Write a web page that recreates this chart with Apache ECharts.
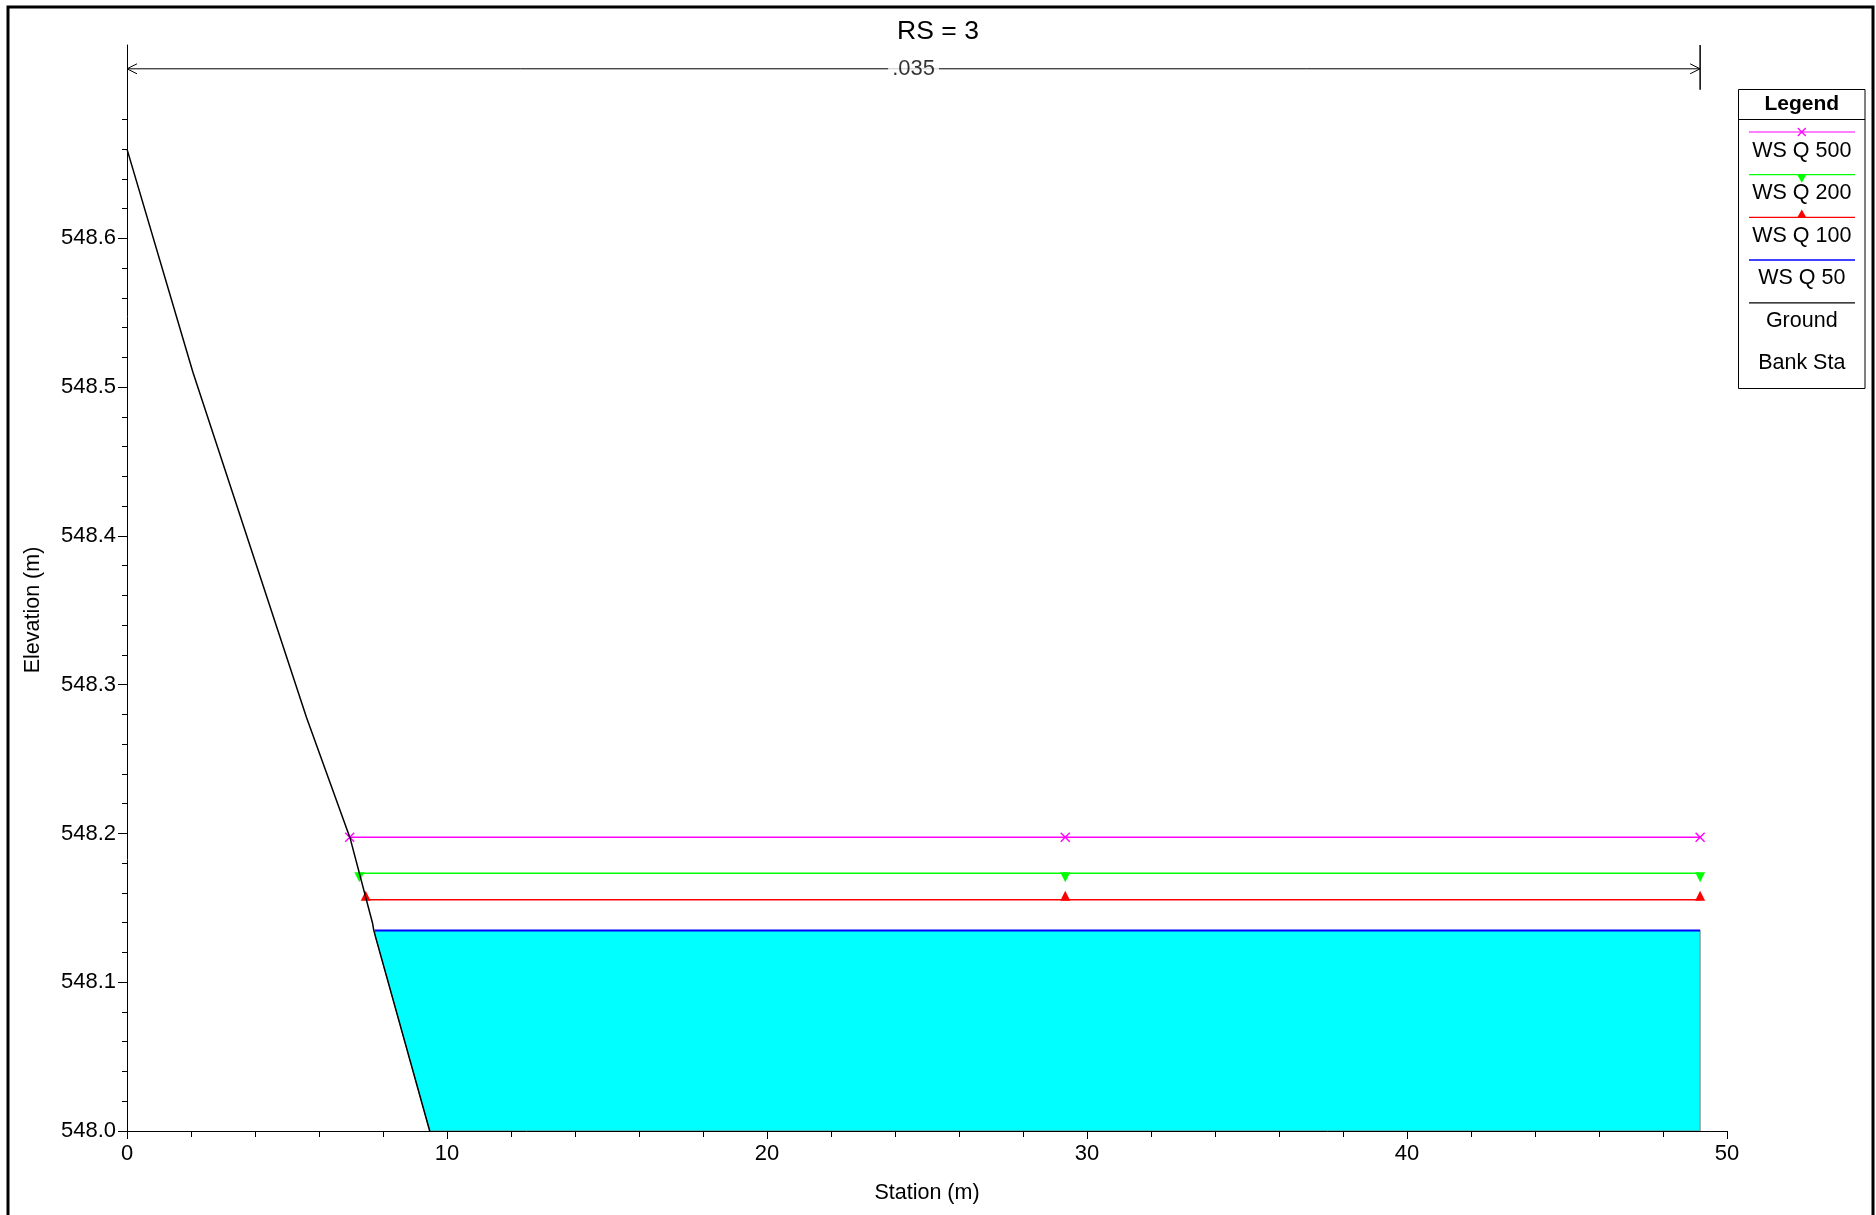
<!DOCTYPE html>
<html>
<head>
<meta charset="utf-8">
<script src="https://cdn.jsdelivr.net/npm/echarts/dist/echarts.min.js"></script>
<style>
  html, body { margin: 0; padding: 0; background: #fff; }
  #main { width: 1876px; height: 1215px; }
</style>
</head>
<body>
<div id="main"></div>
<script>
// ground profile (station m, elevation m)
var groundStation = [0, 2.06, 5.61, 6.97, 7.67, 7.71, 7.76, 9.46, 10.2]
var groundElevation = [548.660, 548.510, 548.278, 548.197, 548.140, 548.135, 548.131, 548.0, 547.943]

// water surfaces
var wsNames = ['WS Q 500', 'WS Q 200', 'WS Q 100', 'WS Q 50']
var wsElevation = [548.1974, 548.1733, 548.1555, 548.1347]
var wsStartStation = [6.96, 7.26, 7.46, 7.74]
var wsMidStation = 29.32
var wsEndStation = 49.16

// manning's n band above the section
var nValueText = '.035'
var nStartStation = 0
var nEndStation = 49.16
var nElevation = 548.714

// axes
var xTicks = [0, 10, 20, 30, 40, 50]
var yMajorTicks = [548.0, 548.1, 548.2, 548.3, 548.4, 548.5, 548.6]
var yMinorTicks = [548.02, 548.04, 548.06, 548.08, 548.12, 548.14, 548.16, 548.18,
  548.22, 548.24, 548.26, 548.28, 548.32, 548.34, 548.36, 548.38,
  548.42, 548.44, 548.46, 548.48, 548.52, 548.54, 548.56, 548.58,
  548.62, 548.64, 548.66, 548.68]

var Y_MIN = 548.0
var Y_MAX = 548.73
var FONT = 'Liberation Sans, Arial, sans-serif'

var wsColors = ['#ff00ff', '#00ff00', '#ff0000', '#0000ff']
var crossPath = 'path://M0,0L10,10M10,0L0,10'

function waterPolygon (ws, left) {
  var pts = [[left, ws], [wsEndStation, ws], [wsEndStation, Y_MIN]]
  var under = []
  for (var i = 0; i < groundStation.length; i++) {
    if (groundStation[i] > left && groundElevation[i] < ws && groundElevation[i] >= Y_MIN) {
      under.push([groundStation[i], groundElevation[i]])
    }
  }
  return pts.concat(under.reverse())
}

function wsSeries (i) {
  var symbol = 'none'
  var size = 10
  var offset = [0, 0]
  var rotate = 0
  if (i === 0) { symbol = crossPath; size = 9 }
  if (i === 1) { symbol = 'triangle'; rotate = 180; offset = [0, 4]; size = [10, 10] }
  if (i === 2) { symbol = 'triangle'; offset = [0, -4]; size = [10, 10] }
  var isCross = i === 0
  return {
    name: wsNames[i],
    type: 'line',
    z: 3,
    silent: true,
    data: [[wsStartStation[i], wsElevation[i]], [wsMidStation, wsElevation[i]], [wsEndStation, wsElevation[i]]],
    symbol: symbol,
    symbolSize: size,
    symbolRotate: rotate,
    symbolOffset: offset,
    showSymbol: symbol !== 'none',
    lineStyle: { color: wsColors[i], width: i === 3 ? 2 : 1.5 },
    itemStyle: isCross
      ? { color: 'rgba(0,0,0,0)', borderColor: wsColors[i], borderWidth: 1.4 }
      : { color: wsColors[i], borderWidth: 0 }
  }
}

var groundData = groundStation.map(function (s, i) { return [s, groundElevation[i]] })
var waterPts = waterPolygon(wsElevation[3], wsStartStation[3])

var series = [{
  name: 'water',
  type: 'custom',
  z: 1,
  silent: true,
  clip: true,
  data: [0],
  renderItem: function (params, api) {
    return {
      type: 'polygon',
      shape: { points: waterPts.map(function (p) { return api.coord(p) }) },
      style: { fill: '#00ffff', stroke: '#808080', lineWidth: 1 }
    }
  }
}]
for (var i = 0; i < wsNames.length; i++) series.push(wsSeries(i))
series.push({
  name: 'Ground',
  type: 'line',
  z: 5,
  silent: true,
  data: groundData,
  showSymbol: false,
  lineStyle: { color: '#000', width: 1.5 }
})
// n value arrow
series.push({
  type: 'line',
  z: 4,
  silent: true,
  data: [
    { value: [nStartStation, nElevation], symbol: 'path://M10,0L0,5L10,10', symbolOffset: [5, 0] },
    { value: [nEndStation, nElevation], symbol: 'path://M0,0L10,5L0,10', symbolOffset: [-5, 0] }
  ],
  symbolSize: [10, 10],
  lineStyle: { color: '#000', width: 1 },
  itemStyle: { color: 'rgba(0,0,0,0)', borderColor: '#000', borderWidth: 1 }
})
series.push({
  type: 'line',
  z: 4,
  silent: true,
  data: [[nEndStation, Y_MAX], [nEndStation, 548.700]],
  showSymbol: false,
  lineStyle: { color: '#000', width: 1.5 }
})
series.push({
  type: 'scatter',
  z: 6,
  silent: true,
  data: [[(nStartStation + nEndStation) / 2, nElevation]],
  symbolSize: 1,
  itemStyle: { color: 'rgba(0,0,0,0)' },
  label: {
    show: true,
    position: 'inside',
    formatter: nValueText,
    fontFamily: FONT,
    fontSize: 22,
    color: '#000',
    backgroundColor: '#fff',
    padding: [2, 4]
  }
})

// legend drawn like the HEC-RAS box
var legendNames = wsNames.concat(['Ground', 'Bank Sta'])
var legendColors = wsColors.concat(['#000', null])
var LX = 1738.5, LY = 89.5, LW = 126.5, LH = 299
var CX = LX + LW / 2
var legendEls = [
  { type: 'rect', shape: { x: LX, y: LY, width: LW, height: LH }, style: { fill: '#fff', stroke: '#000', lineWidth: 1 } },
  { type: 'line', shape: { x1: LX, y1: 119.5, x2: LX + LW, y2: 119.5 }, style: { stroke: '#000', lineWidth: 1 } },
  { type: 'text', style: { text: 'Legend', x: CX, y: 104, font: 'bold 21px ' + FONT, textAlign: 'center', textVerticalAlign: 'middle', fill: '#000' } }
]
legendNames.forEach(function (name, i) {
  var ly = 132 + 42.7 * i
  var ty = 151 + 42.5 * i
  if (legendColors[i]) {
    legendEls.push({ type: 'line', shape: { x1: 1749, y1: ly, x2: 1855, y2: ly }, style: { stroke: legendColors[i], lineWidth: i === 3 ? 1.5 : 1.2 } })
  }
  if (i === 0) {
    legendEls.push({ type: 'line', shape: { x1: CX - 4, y1: ly - 4, x2: CX + 4, y2: ly + 4 }, style: { stroke: legendColors[i], lineWidth: 1.2 } })
    legendEls.push({ type: 'line', shape: { x1: CX - 4, y1: ly + 4, x2: CX + 4, y2: ly - 4 }, style: { stroke: legendColors[i], lineWidth: 1.2 } })
  }
  if (i === 1) {
    legendEls.push({ type: 'polygon', shape: { points: [[CX - 4.5, ly], [CX + 4.5, ly], [CX, ly + 8]] }, style: { fill: legendColors[i] } })
  }
  if (i === 2) {
    legendEls.push({ type: 'polygon', shape: { points: [[CX - 4.5, ly], [CX + 4.5, ly], [CX, ly - 8]] }, style: { fill: legendColors[i] } })
  }
  legendEls.push({ type: 'text', style: { text: name, x: CX, y: ty, font: '21.5px ' + FONT, textAlign: 'center', textVerticalAlign: 'middle', fill: '#000' } })
})

var myChart = echarts.init(document.getElementById('main'))
myChart.setOption({
  animation: false,
  backgroundColor: '#fff',
  title: {
    text: 'RS = 3',
    left: 'center',
    top: 13,
    textStyle: { fontFamily: FONT, fontSize: 26.5, fontWeight: 'normal', color: '#000' }
  },
  grid: { left: 127, right: 149, top: 45, bottom: 84, containLabel: false },
  xAxis: {
    type: 'value',
    min: xTicks[0],
    max: xTicks[xTicks.length - 1],
    interval: 10,
    name: 'Station (m)',
    nameLocation: 'middle',
    nameGap: 51,
    nameTextStyle: { fontFamily: FONT, fontSize: 21.5, color: '#000' },
    axisLine: { show: true, onZero: false, lineStyle: { color: '#000', width: 1 } },
    axisTick: { show: true, length: 8, lineStyle: { color: '#000' } },
    minorTick: { show: true, splitNumber: 5, length: 6, lineStyle: { color: '#000' } },
    axisLabel: { margin: 12, fontFamily: FONT, fontSize: 22, color: '#000' },
    splitLine: { show: false }
  },
  yAxis: [{
    type: 'value',
    min: Y_MIN,
    max: Y_MAX,
    name: 'Elevation (m)',
    nameLocation: 'middle',
    nameGap: 83,
    nameTextStyle: { fontFamily: FONT, fontSize: 21.5, color: '#000', padding: [0, 44, 0, 0] },
    axisLine: { show: true, onZero: false, lineStyle: { color: '#000', width: 1 } },
    axisTick: { show: true, length: 9, customValues: yMajorTicks, lineStyle: { color: '#000' } },
    axisLabel: {
      customValues: yMajorTicks,
      margin: 11,
      fontFamily: FONT,
      fontSize: 22,
      color: '#000',
      formatter: function (v) { return v.toFixed(1) }
    },
    splitLine: { show: false }
  }, {
    type: 'value',
    min: Y_MIN,
    max: Y_MAX,
    position: 'left',
    axisLine: { show: false },
    axisTick: { show: true, length: 5, customValues: yMinorTicks, lineStyle: { color: '#000' } },
    axisLabel: { show: false },
    splitLine: { show: false }
  }],
  series: series,
  graphic: [
    { type: 'rect', z: 100, shape: { x: 8, y: 7, width: 1865, height: 1220 }, style: { fill: 'none', stroke: '#000', lineWidth: 3 } },
    { type: 'group', z: 100, children: legendEls }
  ]
})
</script>
</body>
</html>
